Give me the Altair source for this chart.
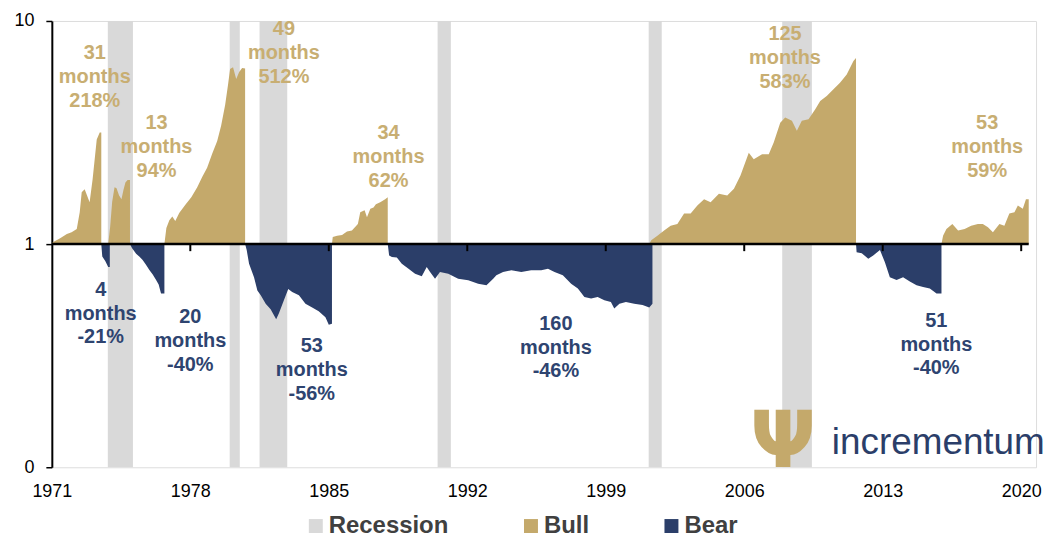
import altair as alt
import pandas as pd

GOLD = "#C4A96B"
NAVY = "#2B3E69"
GREY = "#D9D9D9"
GOLD_TXT = "#C8AE72"
NAVY_TXT = "#2E4470"

# ---- phase data (decimal year, relative value; each phase starts at 1) ----
bull1_years = [1971.0, 1971.05, 1971.4, 1971.76, 1972.0, 1972.26, 1972.41, 1972.51, 1972.66,
               1972.91, 1973.06, 1973.27, 1973.42, 1973.5]
bull1_vals = [1.0, 1.02, 1.06, 1.11, 1.13, 1.17, 1.39, 1.71, 1.76, 1.54, 1.95, 2.94, 3.16, 3.16]

bear1_years = [1973.5, 1973.55, 1973.7, 1973.85, 1973.93]
bear1_vals = [1.0, 0.88, 0.84, 0.79, 0.79]

bull2_years = [1973.85, 1973.95, 1974.05, 1974.17, 1974.27, 1974.4, 1974.52, 1974.62, 1974.72,
               1974.83, 1974.95]
bull2_vals = [1.0, 1.2, 1.55, 1.8, 1.78, 1.65, 1.59, 1.75, 1.89, 1.94, 1.94]

bear2_years = [1974.95, 1975.05, 1975.26, 1975.42, 1975.58, 1975.75, 1975.93, 1976.1, 1976.27,
               1976.4, 1976.52, 1976.62, 1976.69]
bear2_vals = [1.0, 0.96, 0.905, 0.88, 0.85, 0.81, 0.765, 0.73, 0.69, 0.66, 0.6, 0.6, 0.6]

bull3_years = [1976.69, 1976.79, 1976.94, 1977.09, 1977.24, 1977.44, 1977.75, 1978.05, 1978.35,
               1978.6, 1978.85, 1979.11, 1979.36, 1979.56, 1979.76, 1979.91, 1980.01, 1980.16,
               1980.32, 1980.47, 1980.62, 1980.77]
bull3_vals = [1.0, 1.18, 1.28, 1.33, 1.27, 1.38, 1.5, 1.62, 1.8, 2.0, 2.2, 2.55, 2.9, 3.4, 4.2,
              5.2, 6.1, 6.2, 5.5, 5.9, 6.15, 6.12]

bear3_years = [1980.77, 1980.85, 1980.97, 1981.22, 1981.39, 1981.56, 1981.81, 1982.06, 1982.34,
               1982.48, 1982.73, 1982.95, 1983.15, 1983.49, 1983.82, 1984.16, 1984.49, 1984.83,
               1985.0, 1985.16]
bear3_vals = [1.0, 0.94, 0.817, 0.71, 0.62, 0.59, 0.54, 0.51, 0.46, 0.49, 0.56, 0.63, 0.61, 0.59,
              0.54, 0.52, 0.5, 0.47, 0.435, 0.44]

bull4_years = [1985.16, 1985.2, 1985.42, 1985.67, 1985.92, 1986.17, 1986.47, 1986.59, 1986.81,
               1986.93, 1987.1, 1987.26, 1987.38, 1987.6, 1987.85, 1987.98]
bull4_vals = [1.0, 1.075, 1.09, 1.1, 1.14, 1.15, 1.23, 1.39, 1.42, 1.32, 1.44, 1.46, 1.51, 1.54,
              1.59, 1.62]

bear4_years = [1987.98, 1988.05, 1988.19, 1988.44, 1988.69, 1989.03, 1989.36, 1989.7, 1989.95,
               1990.12, 1990.37, 1990.62, 1991.04, 1991.54, 1992.05, 1992.55, 1992.97, 1993.31,
               1993.47, 1993.81, 1994.23, 1994.73, 1995.23, 1995.74, 1996.08, 1996.41, 1996.83,
               1997.25, 1997.59, 1997.92, 1998.26, 1998.59, 1998.93, 1999.26, 1999.43, 1999.69,
               2000.02, 2000.44, 2000.86, 2001.2, 2001.36]
bear4_vals = [1.0, 0.89, 0.875, 0.87, 0.817, 0.776, 0.737, 0.717, 0.79, 0.75, 0.7, 0.75, 0.737,
              0.7, 0.688, 0.665, 0.654, 0.7, 0.725, 0.75, 0.763, 0.75, 0.763, 0.763, 0.776, 0.75,
              0.725, 0.665, 0.632, 0.58, 0.57, 0.58, 0.56, 0.55, 0.514, 0.54, 0.55, 0.54, 0.533,
              0.52, 0.54]

bull5_years = [2001.2, 2001.3, 2001.61, 2001.95, 2002.28, 2002.62, 2002.96, 2003.29, 2003.63,
               2003.97, 2004.3, 2004.72, 2005.14, 2005.48, 2005.81, 2006.23, 2006.48, 2006.9,
               2007.24, 2007.49, 2007.82, 2008.07, 2008.41, 2008.66, 2008.91, 2009.25, 2009.59,
               2009.84, 2010.17, 2010.51, 2010.84, 2011.18, 2011.52, 2011.65]
bull5_vals = [1.0, 1.04, 1.09, 1.15, 1.21, 1.23, 1.37, 1.37, 1.49, 1.59, 1.54, 1.68, 1.65, 1.77,
              2.03, 2.57, 2.4, 2.53, 2.53, 2.85, 3.5, 3.69, 3.57, 3.22, 3.57, 3.63, 4.02, 4.38,
              4.61, 4.94, 5.28, 5.76, 6.61, 6.83]

bear5_years = [2011.65, 2011.68, 2011.94, 2012.27, 2012.52, 2012.86, 2013.11, 2013.36, 2013.7,
               2014.03, 2014.37, 2014.71, 2015.04, 2015.38, 2015.72, 2015.97]
bear5_vals = [1.0, 0.92, 0.91, 0.86, 0.89, 0.94, 0.83, 0.71, 0.69, 0.71, 0.68, 0.654, 0.643,
              0.632, 0.6, 0.6]

bull6_years = [2015.97, 2016.05, 2016.22, 2016.52, 2016.81, 2017.14, 2017.47, 2017.81, 2018.06,
               2018.32, 2018.57, 2018.9, 2019.15, 2019.4, 2019.66, 2019.83, 2020.08, 2020.24,
               2020.38]
bull6_vals = [1.0, 1.09, 1.17, 1.23, 1.15, 1.17, 1.21, 1.23, 1.23, 1.19, 1.13, 1.23, 1.21, 1.37,
              1.39, 1.49, 1.44, 1.59, 1.59]

# recessions
rec_start = [1973.83, 1979.99, 1981.5, 1990.5, 2001.17, 2007.92]
rec_end = [1975.1, 1980.5, 1982.9, 1991.17, 2001.83, 2009.42]

# annotations (anchored at the first line of each label)
ann_text = ["31\nmonths\n218%", "13\nmonths\n94%", "49\nmonths\n512%", "34\nmonths\n62%",
            "125\nmonths\n583%", "53\nmonths\n59%",
            "4\nmonths\n-21%", "20\nmonths\n-40%", "53\nmonths\n-56%", "160\nmonths\n-46%",
            "51\nmonths\n-40%"]
ann_type = ["Bull"] * 6 + ["Bear"] * 5
ann_year = [1973.17, 1976.29, 1982.73, 1988.02, 2008.06, 2018.28,
            1973.47, 1978.0, 1984.14, 1996.48, 2015.71]
ann_value = [7.15, 3.48, 9.2, 3.14, 8.75, 3.48,
             0.625, 0.472, 0.348, 0.44, 0.454]

tick_years = [1971, 1978, 1985, 1992, 1999, 2006, 2013, 2020]

phases = [
    ("Bull", bull1_years, bull1_vals), ("Bear", bear1_years, bear1_vals),
    ("Bull", bull2_years, bull2_vals), ("Bear", bear2_years, bear2_vals),
    ("Bull", bull3_years, bull3_vals), ("Bear", bear3_years, bear3_vals),
    ("Bull", bull4_years, bull4_vals), ("Bear", bear4_years, bear4_vals),
    ("Bull", bull5_years, bull5_vals), ("Bear", bear5_years, bear5_vals),
    ("Bull", bull6_years, bull6_vals),
]
rows = []
for i, (t, ys, vs) in enumerate(phases):
    assert len(ys) == len(vs)
    for yr, v in zip(ys, vs):
        rows.append({"year": yr, "value": v, "base": 1.0, "type": t, "phase": i})
df = pd.DataFrame(rows)

rec_df = pd.DataFrame({"start": rec_start, "end": rec_end, "type": "Recession",
                       "lo": 0.1, "hi": 10.0})
ann_df = pd.DataFrame({"text": ann_text, "type": ann_type, "year": ann_year, "value": ann_value})
ann_df["color"] = ann_df["type"].map({"Bull": GOLD_TXT, "Bear": NAVY_TXT})
line_df = pd.DataFrame({"x0": [tick_years[0]], "x1": [bull6_years[-1]], "v": [1.0]})
tick_df = pd.DataFrame({"year": tick_years[1:], "v0": 1.0, "v1": 0.93})
logo_df = pd.DataFrame({"year": [2007.96, 2015.81], "value": [0.1, 0.1147],
                        "text": ["Ψ", "incrementum"]})

xscale = alt.Scale(domain=[1971, 2020.75], nice=False, zero=False)
yscale = alt.Scale(type="log", domain=[0.1, 10], nice=False)
color = alt.Color(
    "type:N",
    scale=alt.Scale(domain=["Recession", "Bull", "Bear"], range=[GREY, GOLD, NAVY]),
    legend=alt.Legend(
        title=None, orient="none", legendX=253, legendY=495, direction="horizontal",
        symbolType="square", symbolSize=196, symbolStrokeWidth=0, symbolOpacity=1,
        labelFontSize=24, labelFontWeight="bold", labelColor="#404040", labelOffset=1,
        columnPadding=70, labelFont="Liberation Sans",
    ),
)

xaxis = alt.Axis(values=tick_years, format="d", domain=False, ticks=False, grid=False,
                 labelFontSize=18, labelColor="black", labelPadding=15, labelFlush=False,
                 labelOverlap=False, title=None, labelFont="Liberation Sans")
yaxis = alt.Axis(values=[0.1, 1, 10], grid=False, title=None,
                 labelExpr="datum.value < 0.5 ? '0' : format(datum.value, 'd')",
                 labelFontSize=18, labelColor="black", labelPadding=12,
                 domainColor="black", domainWidth=2, tickColor="black", tickWidth=1.5,
                 tickSize=6, labelFont="Liberation Sans")

bands = alt.Chart(rec_df).mark_rect().encode(
    x=alt.X("start:Q", scale=xscale, axis=xaxis),
    x2="end:Q",
    y=alt.Y("lo:Q", scale=yscale, axis=yaxis),
    y2="hi:Q",
    color=color,
)

areas = alt.Chart(df).mark_area(interpolate="linear").encode(
    x=alt.X("year:Q", scale=xscale),
    y=alt.Y("value:Q", scale=yscale, stack=None),
    y2="base:Q",
    color=color,
    detail="phase:N",
)

baseline = alt.Chart(line_df).mark_rule(color="black", strokeWidth=2.5).encode(
    x=alt.X("x0:Q", scale=xscale), x2="x1:Q", y=alt.Y("v:Q", scale=yscale)
)

ticks = alt.Chart(tick_df).mark_rule(color="black", strokeWidth=2).encode(
    x=alt.X("year:Q", scale=xscale), y=alt.Y("v0:Q", scale=yscale), y2="v1:Q"
)

labels = alt.Chart(ann_df).mark_text(
    fontSize=20, fontWeight="bold", lineBreak="\n", lineHeight=24, align="center",
    baseline="middle", font="Liberation Sans",
).encode(
    x=alt.X("year:Q", scale=xscale), y=alt.Y("value:Q", scale=yscale),
    text="text:N", color=alt.Color("color:N", scale=None),
)

tree = alt.Chart(logo_df[logo_df.text == "Ψ"]).mark_text(
    fontSize=78, fontWeight="bold", color=GOLD, align="center", baseline="alphabetic",
    font="DejaVu Sans",
).encode(x=alt.X("year:Q", scale=xscale), y=alt.Y("value:Q", scale=yscale), text="text:N")

brand = alt.Chart(logo_df[logo_df.text == "incrementum"]).mark_text(
    fontSize=37, color=NAVY, align="center", baseline="alphabetic", font="Liberation Sans",
).encode(x=alt.X("year:Q", scale=xscale), y=alt.Y("value:Q", scale=yscale), text="text:N")

chart = alt.layer(bands, areas, baseline, ticks, labels, tree, brand).properties(
    width=988, height=448,
    padding={"left": 44, "top": 12, "right": 10, "bottom": 73},
    autosize=alt.AutoSizeParams(type="none"),
).configure_view(stroke=None).configure(font="Liberation Sans", background="white")

chart.save("out.html", embed_options={"renderer": "svg", "actions": False})
